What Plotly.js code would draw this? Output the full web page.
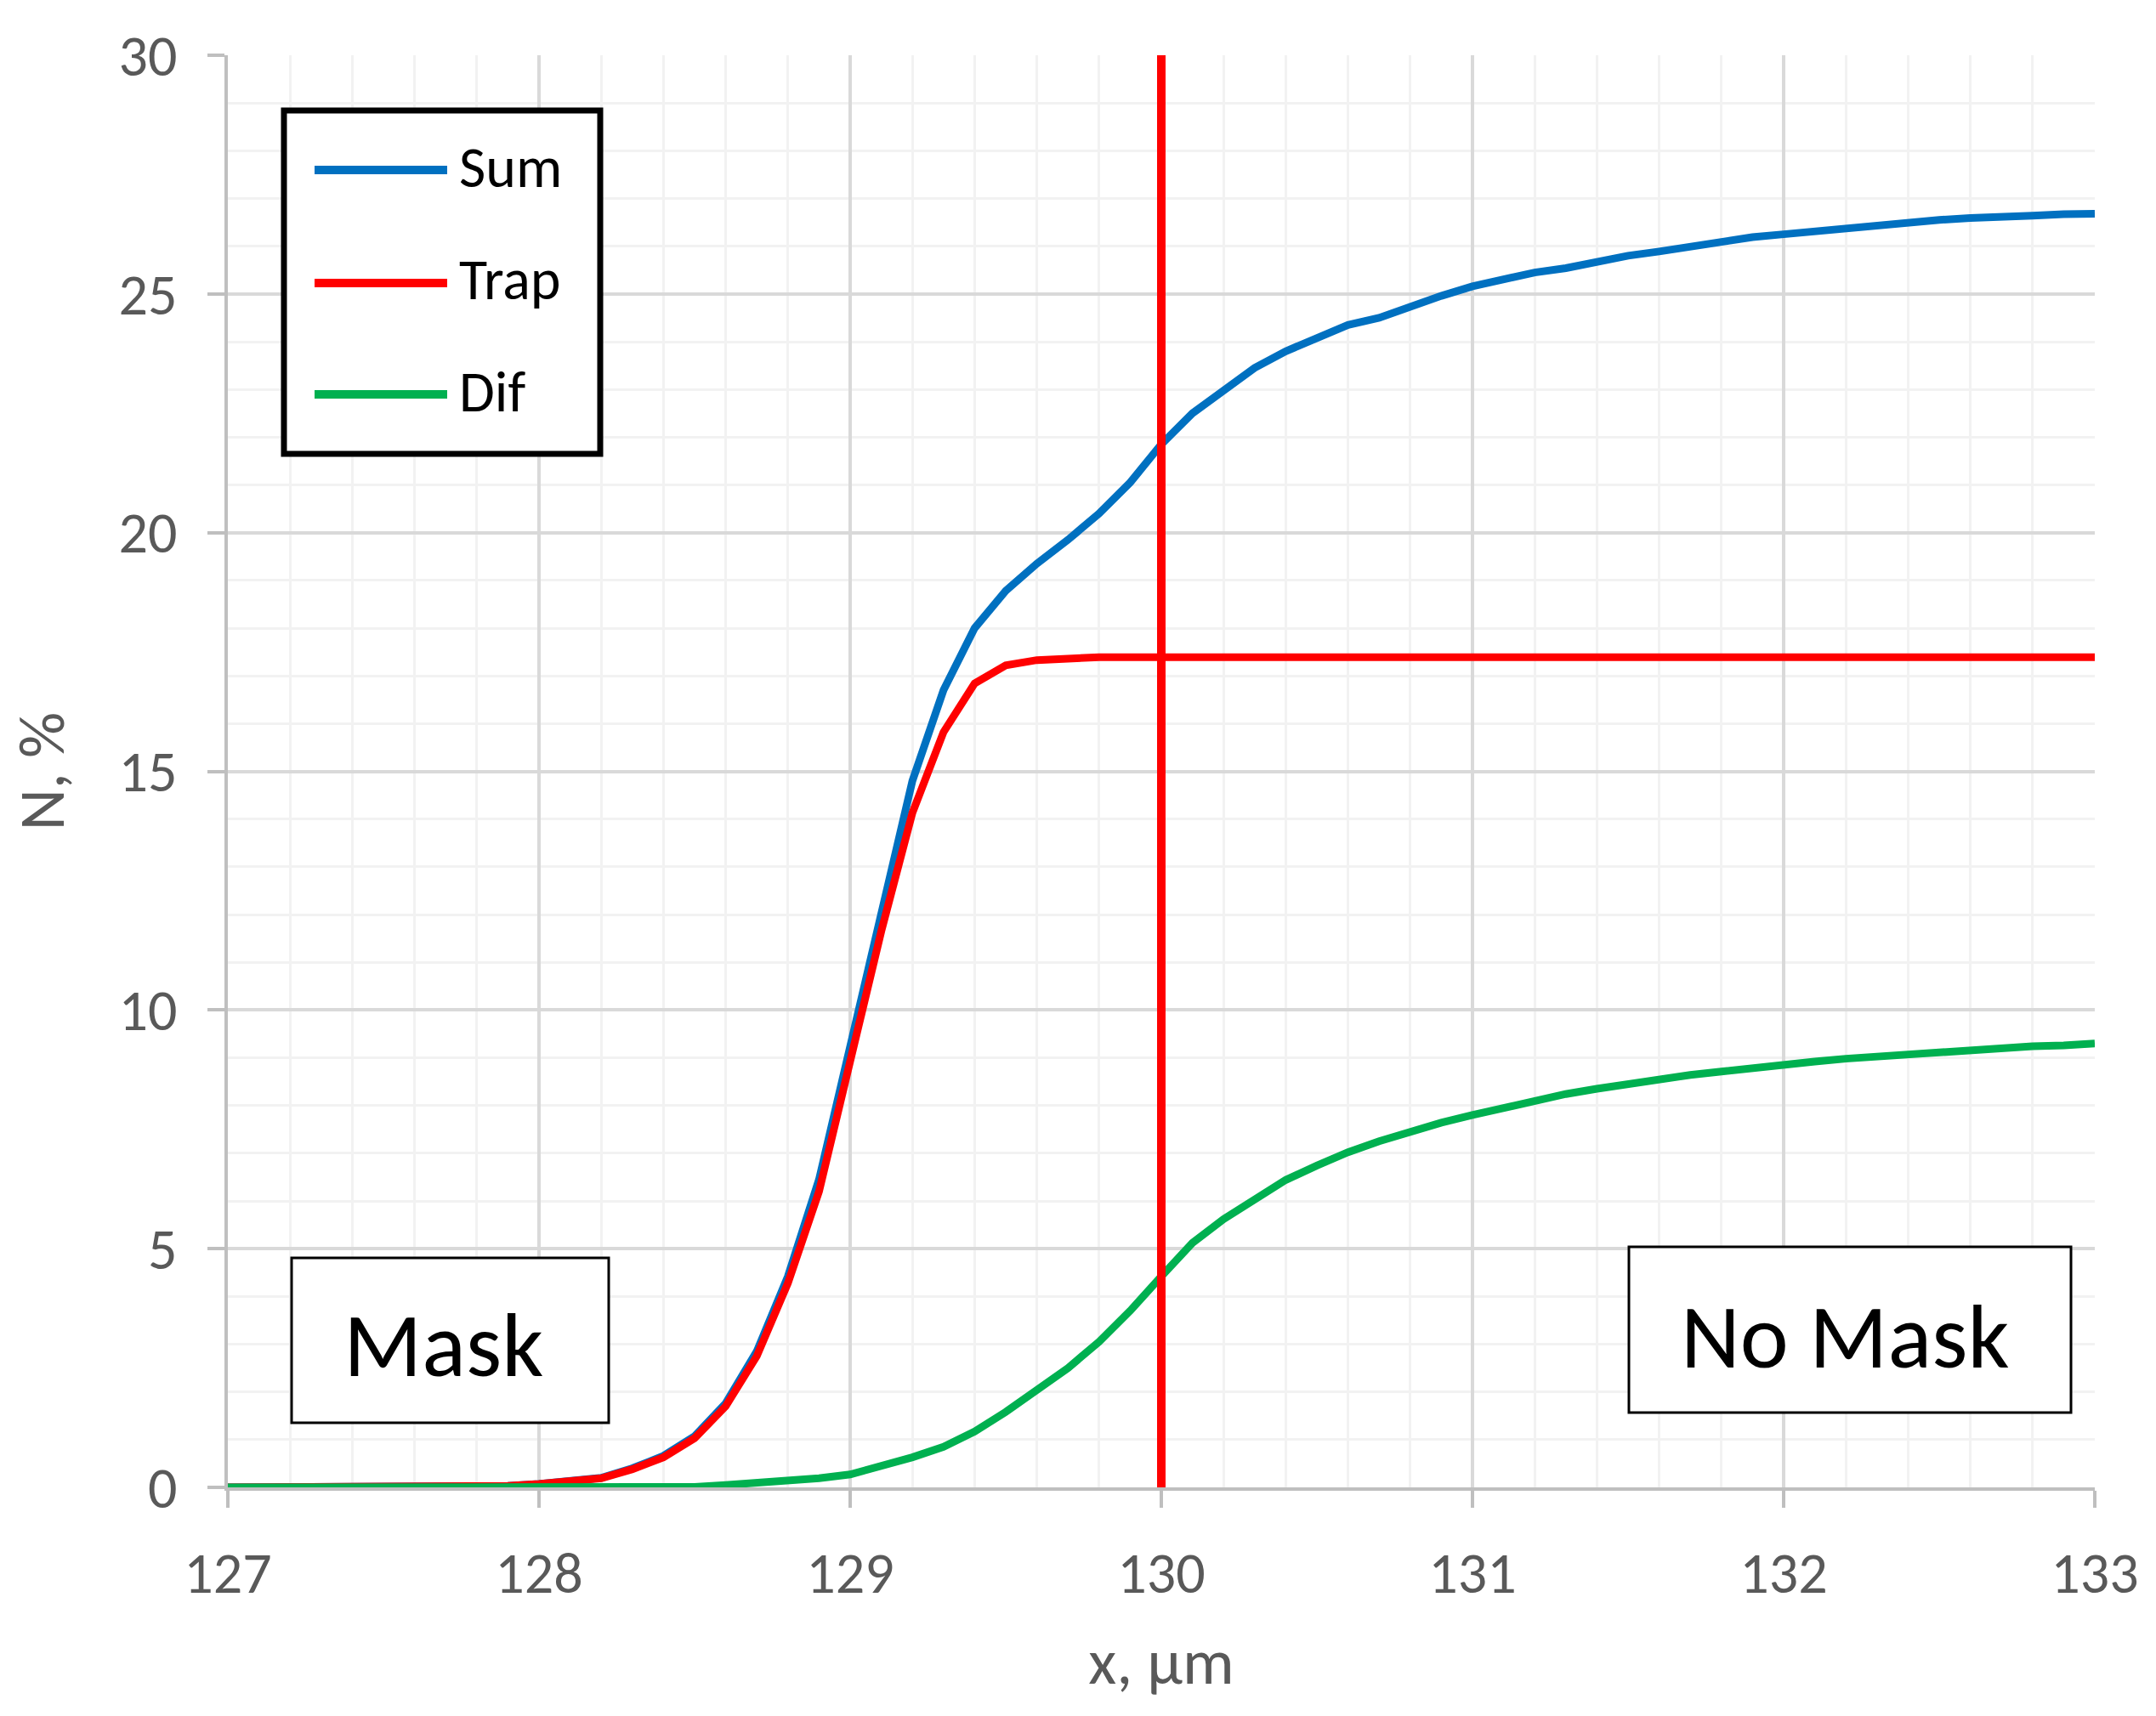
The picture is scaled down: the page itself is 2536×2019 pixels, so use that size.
<!DOCTYPE html>
<html>
<head>
<meta charset="utf-8">
<script src="https://cdn.plot.ly/plotly-3.0.1.min.js"></script>
<style>
  html, body { margin: 0; padding: 0; background: #ffffff; }
  #chart { width: 2536px; height: 2019px; }
</style>
</head>
<body>
<div id="chart"></div>
<script>
// ---------- data ----------
const xValues = [
  127.0, 127.1, 127.2, 127.3, 127.4, 127.5, 127.6, 127.7, 127.8, 127.9,
  128.0, 128.1, 128.2, 128.3, 128.4, 128.5, 128.6, 128.7, 128.8, 128.9,
  129.0, 129.1, 129.2, 129.3, 129.4, 129.5, 129.6, 129.7, 129.8, 129.9,
  130.0, 130.1, 130.2, 130.3, 130.4, 130.5, 130.6, 130.7, 130.8, 130.9,
  131.0, 131.1, 131.2, 131.3, 131.4, 131.5, 131.6, 131.7, 131.8, 131.9,
  132.0, 132.1, 132.2, 132.3, 132.4, 132.5, 132.6, 132.7, 132.8, 132.9,
  133.0
];

const sumValues = [
  0, 0, 0, 0, 0, 0, 0, 0, 0.01, 0.03,
  0.07, 0.12, 0.20, 0.40, 0.66, 1.07, 1.76, 2.85, 4.42, 6.45,
  9.25, 12.1, 14.8, 16.7, 18.0, 18.78, 19.35, 19.85, 20.4, 21.05,
  21.85, 22.5, 22.98, 23.45, 23.8, 24.08, 24.35, 24.5, 24.74, 24.96,
  25.16, 25.32, 25.45, 25.54, 25.68, 25.8, 25.89, 25.99, 26.1, 26.19,
  26.25, 26.31, 26.4, 26.46, 26.5, 26.55, 26.59, 26.6, 26.64, 26.67,
  26.68
];

const trapValues = [
  0, 0, 0, 0, 0, 0, 0, 0, 0.01, 0.03,
  0.07, 0.11, 0.19, 0.38, 0.63, 1.03, 1.70, 2.75, 4.28, 6.2,
  8.88, 11.65, 14.13, 15.82, 16.84, 17.22, 17.33, 17.37, 17.39, 17.39,
  17.39, 17.39, 17.39, 17.39, 17.39, 17.39, 17.39, 17.39, 17.39, 17.39,
  17.39, 17.39, 17.39, 17.39, 17.39, 17.39, 17.39, 17.39, 17.39, 17.39,
  17.39, 17.39, 17.39, 17.39, 17.39, 17.39, 17.39, 17.39, 17.39, 17.39,
  17.39
];

const difValues = [
  0, 0, 0, 0, 0, 0, 0, 0, 0, 0,
  0, 0, 0, 0, 0, 0.01, 0.05, 0.09, 0.13, 0.19,
  0.27, 0.43, 0.63, 0.85, 1.17, 1.58, 2.05, 2.5, 3.05, 3.7,
  4.42, 5.12, 5.62, 6.05, 6.44, 6.74, 7.02, 7.25, 7.46, 7.64,
  7.8, 7.96, 8.1, 8.24, 8.35, 8.46, 8.56, 8.64, 8.71, 8.79,
  8.85, 8.92, 8.98, 9.03, 9.08, 9.12, 9.17, 9.21, 9.24, 9.26,
  9.3
];

// vertical boundary between masked / unmasked region
const boundaryX = [130, 130];
const boundaryY = [0, 30];

const seriesNames = ['Sum', 'Trap', 'Dif'];
const seriesColors = ['#0070C0', '#FF0000', '#00B050'];
const regionLabels = ['Mask', 'No Mask'];
const xAxisTitle = 'x, µm';
const yAxisTitle = 'N, %';
const xTickValues = [127, 128, 129, 130, 131, 132, 133];
const yTickValues = [0, 5, 10, 15, 20, 25, 30];

// ---------- layout helpers (pixel -> paper) ----------
const W = 2536, H = 2019;
const M = { l: 268, r: 72, t: 65, b: 269 };
const PW = W - M.l - M.r, PH = H - M.t - M.b;
const px = v => (v - M.l) / PW;
const py = v => (H - M.b - v) / PH;

const FONT = 'Carlito, Lato, "Open Sans", sans-serif';
const lineW = 9;

const traces = [
  { x: xValues, y: sumValues, name: seriesNames[0] },
  { x: xValues, y: trapValues, name: seriesNames[1] },
  { x: xValues, y: difValues, name: seriesNames[2] }
].map((t, i) => Object.assign(t, {
  type: 'scatter', mode: 'lines',
  line: { color: seriesColors[i], width: lineW, shape: 'linear' },
  showlegend: false, hoverinfo: 'skip'
}));

traces.push({
  type: 'scatter', mode: 'lines', x: boundaryX, y: boundaryY,
  line: { color: '#FF0000', width: 10 }, showlegend: false, hoverinfo: 'skip'
});

// manual legend (Excel-style framed box)
const legend = { x0: 334, x1: 706, y0: 130, y1: 534, lineX0: 370, lineX1: 526, textX: 538, rows: [200, 333, 464] };
const shapes = [
  { type: 'rect', xref: 'paper', yref: 'paper',
    x0: px(legend.x0), x1: px(legend.x1), y0: py(legend.y1), y1: py(legend.y0),
    line: { color: '#000000', width: 7 }, fillcolor: '#ffffff', layer: 'above' },
  { type: 'rect', xref: 'paper', yref: 'paper',
    x0: px(343), x1: px(716), y0: py(1674), y1: py(1480),
    line: { color: '#000000', width: 3 }, fillcolor: '#ffffff', layer: 'above' },
  { type: 'rect', xref: 'paper', yref: 'paper',
    x0: px(1916), x1: px(2436), y0: py(1662), y1: py(1467),
    line: { color: '#000000', width: 3 }, fillcolor: '#ffffff', layer: 'above' }
];
const annotations = [];
seriesNames.forEach((n, i) => {
  shapes.push({ type: 'line', xref: 'paper', yref: 'paper',
    x0: px(legend.lineX0), x1: px(legend.lineX1), y0: py(legend.rows[i]), y1: py(legend.rows[i]),
    line: { color: seriesColors[i], width: 10 }, layer: 'above' });
  annotations.push({ xref: 'paper', yref: 'paper', x: px(legend.textX), y: py(legend.rows[i] - 4),
    xanchor: 'left', yanchor: 'middle', showarrow: false, text: n,
    font: { family: FONT, size: 68, color: '#000000' } });
});
annotations.push({ xref: 'paper', yref: 'paper', x: px(521), y: py(1582),
  xanchor: 'center', yanchor: 'middle', showarrow: false, text: regionLabels[0],
  font: { family: FONT, size: 108, color: '#000000' } });
annotations.push({ xref: 'paper', yref: 'paper', x: px(2170), y: py(1572),
  xanchor: 'center', yanchor: 'middle', showarrow: false, text: regionLabels[1],
  font: { family: FONT, size: 108, color: '#000000' } });

const axisCommon = {
  showline: true, linecolor: '#BFBFBF', linewidth: 4,
  showgrid: true, gridcolor: '#D9D9D9', gridwidth: 4,
  zeroline: false, ticks: 'outside', ticklen: 20, tickwidth: 4, tickcolor: '#BFBFBF',
  tickfont: { family: FONT, size: 68, color: '#595959' },
  layer: 'below traces', mirror: false
};

const layout = {
  width: W, height: H, autosize: false,
  margin: M,
  paper_bgcolor: '#ffffff', plot_bgcolor: '#ffffff',
  font: { family: FONT, color: '#595959' },
  xaxis: Object.assign({}, axisCommon, {
    range: [127, 133], tickmode: 'array', tickvals: xTickValues, ticktext: xTickValues.map(String),
    ticklabelstandoff: 18,
    minor: { dtick: 0.2, showgrid: true, gridcolor: '#F2F2F2', gridwidth: 3, ticks: '' },
    title: { text: xAxisTitle, font: { family: FONT, size: 76, color: '#595959' }, standoff: 38 }
  }),
  yaxis: Object.assign({}, axisCommon, {
    range: [0, 30], tickmode: 'array', tickvals: yTickValues, ticktext: yTickValues.map(String),
    ticklabelstandoff: 22,
    minor: { dtick: 1, showgrid: true, gridcolor: '#F2F2F2', gridwidth: 3, ticks: '' },
    title: { text: yAxisTitle, font: { family: FONT, size: 76, color: '#595959' }, standoff: 40 }
  }),
  shapes: shapes,
  annotations: annotations,
  showlegend: false
};

Plotly.newPlot('chart', traces, layout, { staticPlot: true, displayModeBar: false });
</script>
</body>
</html>
